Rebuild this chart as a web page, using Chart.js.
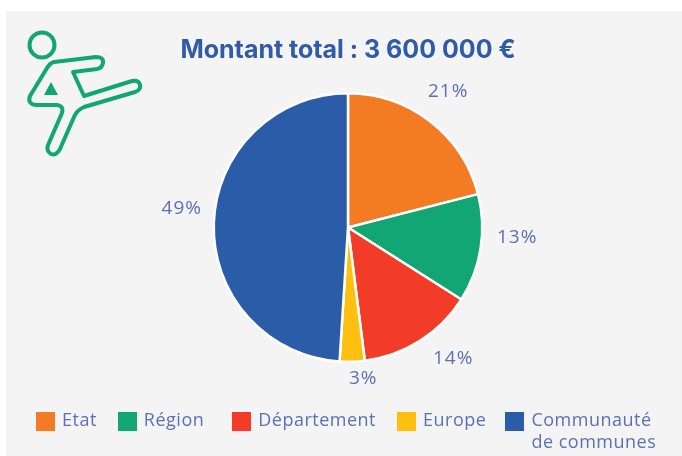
<!DOCTYPE html>
<html>
<head>
<meta charset="utf-8">
<title>Montant total</title>
<script src="https://cdn.jsdelivr.net/npm/chart.js@4"></script>
<style>
  html, body { margin: 0; padding: 0; background: #fff; overflow: hidden; }
  #panel { position: absolute; left: 6px; top: 11px; width: 676px; height: 445px; background: #f4f4f4; }
  #pieChart { position: absolute; left: 0; top: 0; }
  #icon { position: absolute; left: 0; top: 0; }
  #legend { position: absolute; left: 36px; top: 408px; display: flex; align-items: flex-start;
            font: 18px/22px "Open Sans"; letter-spacing: 0.5px; color: #5b70b6; }
  #legend .item { display: flex; align-items: flex-start; }
  #legend .box { width: 19px; height: 19px; margin: 4px 7px 0 0; flex: none; }
  #legend .text { white-space: pre; }
</style>
</head>
<body>
<div id="panel"></div>
<canvas id="pieChart" width="682" height="456"></canvas>
<svg id="icon" width="200" height="170" fill="none" stroke="#12a675" stroke-width="4" stroke-linejoin="round">
  <circle cx="42" cy="45" r="12.5"/>
  <path d="M54 62 L96 57 Q104 57 103 63 Q102 68 97 69 L73 72 L84 96 L132 81 Q139 80 140 85 Q141 90 135 92 L84 107 Q77 110 74 117 L60 149 Q56 156 51 154 Q46 151 48 145 L62 113 Q64 106 57 105 L36 105 Q27 104 30 96 L47 68 Q50 63 54 62 Z"/>
  <path d="M51 82 L58 95 L44 95 Z" fill="#12a675" stroke="none"/>
</svg>
<div id="legend"></div>
<script>
const categories = ['Etat', 'Région', 'Département', 'Europe', 'Communauté\nde communes'];
const values = [21, 13, 14, 3, 49];
const sliceColors = ['#f37b23', '#12a675', '#f23c28', '#fdc010', '#2b5ca8'];

// étiquettes % autour du camembert, décalées à la main comme sur l'original
const labelNudges = [[-3, -3], [3, -16], [15, -11], [10, -17], [2, -14]];
const percentLabels = {
  id: 'percentLabels',
  afterDatasetsDraw(chart) {
    const ctx = chart.ctx;
    const arcs = chart.getDatasetMeta(0).data;
    ctx.save();
    ctx.font = '19px "Open Sans"';
    ctx.letterSpacing = '1px';
    ctx.fillStyle = '#5b70b6';
    ctx.textAlign = 'center';
    ctx.textBaseline = 'middle';
    arcs.forEach((arc, i) => {
      const mid = (arc.startAngle + arc.endAngle) / 2;
      const r = arc.outerRadius + 34;
      const x = arc.x + Math.cos(mid) * r + labelNudges[i][0];
      const y = arc.y + Math.sin(mid) * r + labelNudges[i][1];
      ctx.fillText(values[i] + '%', x, y);
    });
    ctx.restore();
  }
};

const chart = new Chart(document.getElementById('pieChart'), {
  type: 'pie',
  data: {
    labels: categories,
    datasets: [{
      data: values,
      backgroundColor: sliceColors,
      borderColor: '#ffffff',
      borderWidth: 2.5
    }]
  },
  options: {
    responsive: false,
    animation: false,
    layout: { padding: { left: 14, right: 0, top: 0, bottom: 93 } },
    plugins: {
      tooltip: { enabled: false },
      legend: { display: false },
      title: {
        display: true,
        text: 'Montant total : 3 600 000 €',
        color: '#2f5ba8',
        font: { family: 'Inter', size: 25, weight: 'bold' },
        padding: { top: 35, bottom: 27 }
      }
    }
  },
  plugins: [percentLabels]
});

// légende HTML : l'écart entre les entrées n'est pas régulier sur l'original
const legendGaps = [21, 28, 21, 19, 0];
const legendEl = document.getElementById('legend');
chart.data.labels.forEach((label, i) => {
  const item = document.createElement('div');
  item.className = 'item';
  item.style.marginRight = legendGaps[i] + 'px';
  const box = document.createElement('span');
  box.className = 'box';
  box.style.background = sliceColors[i];
  const text = document.createElement('span');
  text.className = 'text';
  text.textContent = label;
  item.append(box, text);
  legendEl.append(item);
});
</script>
</body>
</html>
